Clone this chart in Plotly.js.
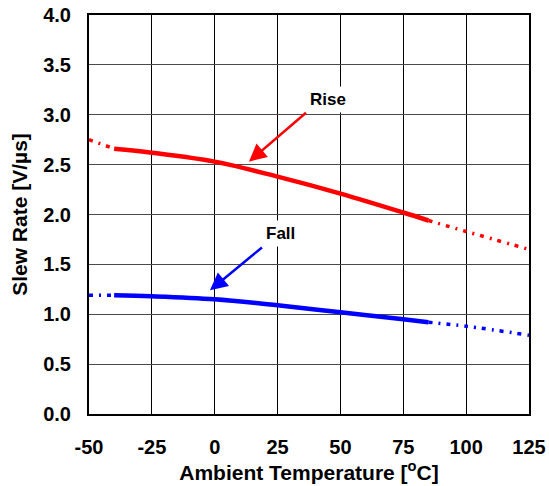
<!DOCTYPE html>
<html><head><meta charset="utf-8">
<script src="https://cdn.plot.ly/plotly-3.0.1.min.js"></script>
<style>html,body{margin:0;padding:0;background:#fff}</style>
</head><body><div id="chart" style="width:549px;height:486px"></div>
<script>
var tempSolid = [-40, -25, 0, 25, 50, 75, 85];
var tempLeft = [-50, -40];
var tempRight = [85, 100, 125];
var riseSolid = [2.66, 2.62, 2.53, 2.38, 2.21, 2.02, 1.94];
var riseLeft = [2.75, 2.66];
var riseRight = [1.94, 1.83, 1.65];
var fallSolid = [1.19, 1.18, 1.15, 1.09, 1.02, 0.95, 0.92];
var fallLeft = [1.19, 1.19];
var fallRight = [0.92, 0.88, 0.79];
var xTicks = [-50, -25, 0, 25, 50, 75, 100, 125];
var yTicks = [0, 0.5, 1, 1.5, 2, 2.5, 3, 3.5, 4];

var RED = '#ff0000', BLUE = '#0000ff';
var dashStyle = '4px,6px,2px,6px';
function tr(x, y, c, solid) {
  return {x: x, y: y, mode: 'lines', type: 'scatter', hoverinfo: 'skip',
    line: {color: c, width: solid ? 4.5 : 3.5, dash: solid ? 'solid' : dashStyle, shape: 'spline'}};
}
var data = [
  tr(tempLeft, riseLeft, RED, false), tr(tempSolid, riseSolid, RED, true), tr(tempRight, riseRight, RED, false),
  tr(tempLeft, fallLeft, BLUE, false), tr(tempSolid, fallSolid, BLUE, true), tr(tempRight, fallRight, BLUE, false)
];
var FAM = 'Liberation Sans, Arial, sans-serif';
var layout = {
  width: 549, height: 486, showlegend: false,
  margin: {l: 89, r: 20, t: 15, b: 72},
  paper_bgcolor: '#fff', plot_bgcolor: '#fff',
  font: {family: FAM, size: 20, color: '#000', weight: 'bold'},
  xaxis: {range: [-50, 125], tickvals: xTicks, ticktext: xTicks.map(String),
    showgrid: true, gridcolor: '#000', gridwidth: 1, zeroline: false,
    showline: true, linecolor: '#000', linewidth: 2, mirror: true, ticks: '',
    tickfont: {family: FAM, size: 20, weight: 'bold', color: '#000'}, ticklabelstandoff: 14,
    title: {text: 'Ambient Temperature [<sup>o</sup>C]', font: {family: FAM, size: 21, weight: 'bold', color: '#000'}, standoff: 3}},
  yaxis: {range: [0, 4], tickvals: yTicks, ticktext: yTicks.map(function(v){return v.toFixed(1);}),
    showgrid: true, gridcolor: '#4a4a4a', gridwidth: 1, zeroline: false,
    showline: true, linecolor: '#000', linewidth: 2, mirror: true, ticks: '',
    tickfont: {family: FAM, size: 20, weight: 'bold', color: '#000'}, ticklabelstandoff: 12,
    title: {text: 'Slew Rate [V/µs]', font: {family: FAM, size: 21, weight: 'bold', color: '#000'}, standoff: 10}},
  annotations: [
    {x: 13.6, y: 2.53, ax: 36.3, ay: 3.02, xref: 'x', yref: 'y', axref: 'x', ayref: 'y',
     text: 'Rise', xanchor: 'left', yanchor: 'bottom', bgcolor: '#fff', borderpad: 3,
     font: {family: FAM, size: 17, weight: 'bold', color: '#000'},
     showarrow: true, arrowhead: 2, arrowsize: 1.4, arrowwidth: 2.5, arrowcolor: RED},
    {x: -1.9, y: 1.24, ax: 18.8, ay: 1.67, xref: 'x', yref: 'y', axref: 'x', ayref: 'y',
     text: 'Fall', xanchor: 'left', yanchor: 'bottom', bgcolor: '#fff', borderpad: 3,
     font: {family: FAM, size: 17, weight: 'bold', color: '#000'},
     showarrow: true, arrowhead: 2, arrowsize: 1.4, arrowwidth: 2.5, arrowcolor: BLUE}
  ]
};
Plotly.newPlot('chart', data, layout, {staticPlot: true});
</script></body></html>
